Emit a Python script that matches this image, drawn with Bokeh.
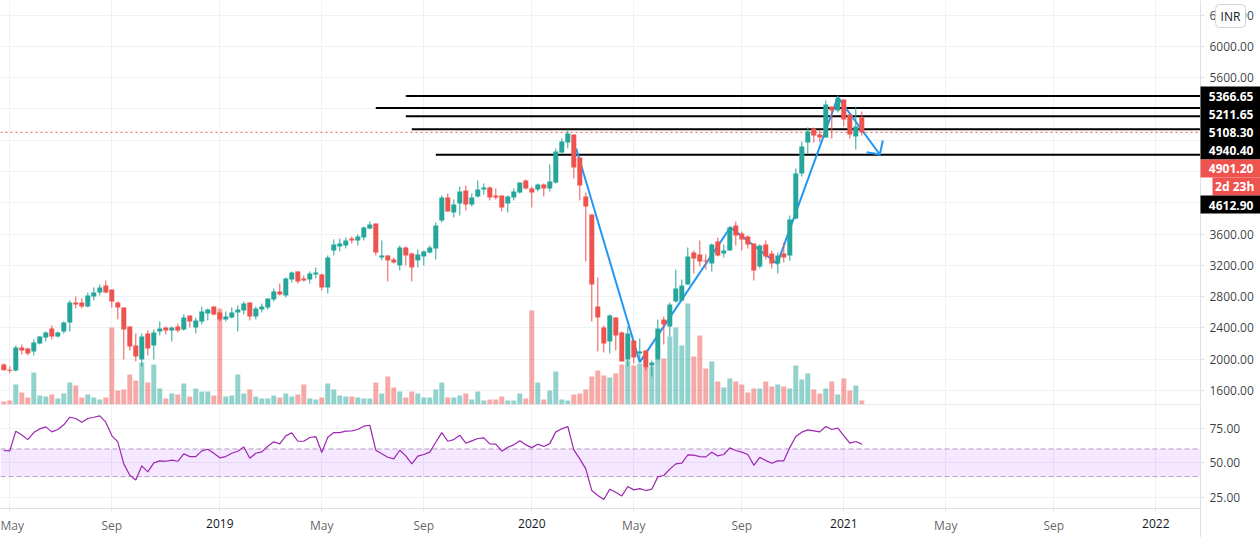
from bokeh.embed import file_html
from bokeh.layouts import column
from bokeh.models import BoxAnnotation, FixedTicker, Grid, Label, LinearAxis, Range1d
from bokeh.plotting import figure
from bokeh.resources import INLINE

# weekly candles, first bar sits in the week of 2018-04-23
opens = [1932, 1864, 1856, 2150, 2137, 2099, 2201, 2278, 2393, 2290,
         2354, 2470, 2725, 2725, 2674, 2802, 2853, 2943, 2892, 2725,
         2661, 2418, 2175, 1996, 2329, 2175, 2354, 2406, 2367, 2418,
         2380, 2559, 2406, 2482, 2585, 2674, 2597, 2508, 2533, 2597,
         2623, 2725, 2546, 2636, 2661, 2764, 2866, 2815, 3019, 3122,
         3032, 3019, 3083, 3083, 2917, 3390, 3442, 3454, 3544, 3518,
         3557, 3672, 3736, 3301, 3326, 3275, 3199, 3429, 3352, 3263,
         3314, 3365, 3416, 3774, 4068, 3876, 3992, 4158, 3979, 4081,
         4171, 4196, 4094, 4094, 3992, 4068, 4132, 4286, 4183, 4171,
         4235, 4183, 4260, 4644, 4772, 4874, 4580, 4081, 3851, 2674,
         2406, 2227, 2534, 2342, 1996, 2239, 2073, 2112, 1919, 1996,
         2507, 2418, 2738, 2750, 2955, 3364, 3339, 3262, 3224, 3505,
         3351, 3390, 3710, 3607, 3569, 3479, 3185, 3467, 3351, 3224,
         3351, 3326, 3799, 4375, 4771, 4950, 4873, 4835, 5231, 5180,
         5321, 5129, 4848, 5091]
highs = [1945, 1907, 2175, 2188, 2146, 2252, 2295, 2354, 2431, 2354,
         2482, 2751, 2802, 2776, 2853, 2917, 2955, 3007, 2892, 2738,
         2661, 2418, 2329, 2329, 2367, 2380, 2482, 2418, 2418, 2457,
         2572, 2559, 2533, 2674, 2649, 2674, 2610, 2610, 2661, 2687,
         2738, 2725, 2674, 2712, 2776, 2904, 2968, 3045, 3122, 3122,
         3071, 3122, 3173, 3096, 3326, 3531, 3544, 3557, 3569, 3595,
         3697, 3761, 3736, 3518, 3326, 3301, 3454, 3442, 3365, 3403,
         3390, 3454, 3749, 4094, 4119, 4043, 4209, 4222, 4119, 4286,
         4247, 4209, 4183, 4094, 4094, 4183, 4260, 4298, 4209, 4247,
         4247, 4490, 4695, 4823, 4925, 4874, 4580, 4132, 3851, 3045,
         2431, 2572, 2534, 2355, 2418, 2239, 2265, 2112, 1983, 2507,
         2546, 2725, 3147, 3019, 3428, 3390, 3518, 3339, 3479, 3556,
         3467, 3697, 3761, 3633, 3582, 3479, 3467, 3518, 3390, 3364,
         3492, 3837, 4438, 4784, 4963, 4963, 4924, 5308, 5231, 5372,
         5321, 5129, 5231, 5167]
lows = [1856, 1822, 1843, 2060, 2047, 2047, 2188, 2226, 2252, 2278,
        2329, 2354, 2649, 2649, 2661, 2751, 2815, 2840, 2661, 2508,
        1996, 2111, 1971, 1907, 2047, 1996, 2303, 2316, 2226, 2342,
        2367, 2406, 2329, 2444, 2495, 2559, 2482, 2482, 2521, 2354,
        2572, 2495, 2508, 2597, 2636, 2738, 2815, 2789, 2981, 2968,
        2994, 2968, 3032, 2879, 2840, 3326, 3378, 3416, 3480, 3454,
        3518, 3659, 3326, 3263, 2994, 3224, 3135, 3199, 2994, 3173,
        3199, 3352, 3275, 3749, 3889, 3812, 3838, 3902, 3953, 4068,
        4107, 4030, 4043, 3889, 3876, 4030, 4119, 4171, 3940, 4145,
        4081, 4145, 4247, 4631, 4695, 4311, 4030, 3250, 2482, 2099,
        2086, 2073, 2112, 1971, 1907, 1945, 1958, 1856, 1778, 1983,
        2188, 2290, 2725, 2738, 2955, 3096, 3185, 3147, 3121, 3313,
        3300, 3390, 3454, 3390, 3415, 3006, 3160, 3275, 3160, 3096,
        3236, 3262, 3786, 4336, 4630, 4771, 4771, 4835, 4822, 5155,
        4976, 4822, 4681, 4861]
closes = [1860, 1851, 2150, 2111, 2073, 2214, 2290, 2342, 2290, 2342,
          2470, 2725, 2700, 2674, 2815, 2853, 2917, 2853, 2738, 2661,
          2380, 2163, 2035, 2290, 2137, 2342, 2393, 2367, 2406, 2367,
          2533, 2482, 2495, 2610, 2636, 2572, 2508, 2546, 2597, 2636,
          2712, 2546, 2649, 2674, 2776, 2866, 2828, 3032, 3109, 2994,
          3007, 3096, 3109, 2917, 3301, 3467, 3480, 3518, 3518, 3569,
          3685, 3723, 3365, 3326, 3263, 3237, 3429, 3326, 3173, 3339,
          3378, 3429, 3710, 4068, 3889, 3979, 4145, 3979, 4068, 4171,
          4196, 4068, 4068, 3940, 4081, 4145, 4260, 4183, 4132, 4235,
          4183, 4273, 4657, 4784, 4887, 4452, 4222, 3953, 2956, 2534,
          2201, 2559, 2303, 1971, 2329, 2022, 2099, 1894, 1957, 2392,
          2443, 2699, 2904, 2942, 3313, 3287, 3249, 3249, 3467, 3326,
          3390, 3684, 3582, 3530, 3467, 3134, 3454, 3313, 3224, 3326,
          3300, 3786, 4375, 4720, 4912, 4861, 4835, 5257, 5180, 5334,
          5065, 4873, 4976, 4901.2]
volumes = [9, 12, 60, 36, 21, 96, 27, 24, 30, 18,
           33, 66, 57, 21, 30, 21, 15, 21, 231, 42,
           45, 90, 72, 126, 66, 120, 48, 18, 33, 30,
           63, 24, 48, 39, 39, 27, 288, 24, 27, 90,
           33, 45, 24, 18, 18, 27, 21, 33, 24, 30,
           60, 18, 15, 21, 63, 45, 27, 24, 24, 21,
           18, 18, 66, 33, 84, 51, 39, 21, 39, 33,
           21, 21, 45, 66, 21, 21, 27, 33, 15, 39,
           12, 15, 15, 24, 12, 12, 33, 18, 282, 66,
           15, 42, 99, 15, 12, 30, 33, 45, 84, 102,
           87, 81, 93, 120, 132, 117, 123, 111, 114, 135,
           138, 204, 231, 177, 303, 144, 207, 108, 129, 69,
           51, 78, 69, 60, 36, 48, 48, 69, 54, 60,
           54, 48, 117, 75, 93, 45, 33, 48, 69, 30,
           78, 42, 57, 12]
rsi = [58.9, 58.6, 72.9, 70.2, 66.8, 71.9, 74.6, 76.0, 72.4, 74.1,
       77.5, 83.0, 82.1, 79.4, 82.1, 83.0, 84.0, 79.4, 69.7, 65.2,
       49.2, 41.0, 37.6, 47.8, 43.4, 49.9, 51.4, 51.1, 51.9, 51.1,
       56.5, 54.5, 54.5, 58.6, 59.8, 56.9, 53.6, 54.5, 56.9, 58.4,
       61.5, 53.3, 56.9, 57.9, 62.0, 65.2, 63.7, 69.5, 71.7, 65.6,
       65.6, 68.3, 69.0, 57.4, 68.5, 71.9, 71.9, 72.9, 73.1, 74.1,
       76.5, 77.2, 59.1, 56.5, 54.0, 52.8, 59.1, 55.0, 49.2, 54.8,
       56.0, 57.7, 64.9, 71.9, 65.6, 66.8, 70.0, 64.2, 65.9, 67.6,
       68.1, 63.7, 63.5, 58.4, 61.3, 63.0, 65.9, 63.0, 61.0, 63.5,
       61.8, 63.9, 72.4, 74.6, 76.3, 59.4, 52.8, 45.6, 29.9, 26.3,
       23.4, 30.9, 28.7, 26.0, 32.8, 30.4, 31.3, 29.9, 30.9, 39.8,
       40.8, 45.4, 49.2, 49.7, 55.7, 55.5, 54.5, 54.3, 57.7, 55.0,
       56.0, 60.8, 58.9, 57.7, 56.0, 48.2, 54.0, 51.6, 49.7, 51.4,
       51.4, 61.0, 69.0, 72.2, 73.8, 73.1, 72.4, 76.3, 74.1, 75.1,
       69.7, 64.2, 65.4, 63.5]

weeks = list(range(len(closes)))

month_ticks = [1, 18, 53, 70, 105, 123, 157, 175]
month_labels = ["May", "Sep", "May", "Sep", "May", "Sep", "May", "Sep"]
year_ticks = [36, 88, 140, 192]
year_labels = ["2019", "2020", "2021", "2022"]

price_ticks = [1600, 2000, 2400, 2800, 3200, 3600, 5600, 6000, 6400]
price_grid = [1600, 2000, 2400, 2800, 3200, 3600, 4000, 4400, 4800, 5200, 5600, 6000, 6400]
rsi_ticks = [25, 50, 75]

# drawn by hand on the chart: horizontal levels (price, first week)
level_prices = [5366.65, 5211.65, 5108.30, 4940.40, 4612.90]
level_starts = [67, 62, 67, 68, 72]
last_price = 4901.20

# the zigzag and its arrow head
zigzag_weeks = [95.4, 106, 121.1, 128.9, 139, 146]
zigzag_prices = [4695, 1962, 3688, 3220, 5351, 4618]
arrow_weeks = [143.8, 146, 146.5]
arrow_prices = [4647, 4618, 4797]

UP = "#26a69a"
DOWN = "#ef5350"
GRID = "#f0f1f5"
AXIS = "#dfe0e4"
TEXT = "#131722"
FONT = "Open Sans"

# frame spans the whole picture, scale strips are drawn inside it
X_START, X_SCALE, X_MAX = -0.55, 199.45, 209.45
PRICE_TOP, PRICE_PER_PX = 6587, 12.788
RSI_TOP, RSI_PER_PX = 91.5, 0.7243


def price_at(py):
    return PRICE_TOP - py * PRICE_PER_PX


def rsi_at(py):
    # py counted from the top of the lower pane
    return RSI_TOP - py * RSI_PER_PX


colors = [UP if c >= o else DOWN for o, c in zip(opens, closes)]
body_top = [max(o, c) for o, c in zip(opens, closes)]
body_bottom = [min(o, c) for o, c in zip(opens, closes)]


def style_scale(axis, ticks):
    axis.ticker = FixedTicker(ticks=ticks)
    axis.major_label_overrides = {t: f"{t}.00" for t in ticks}
    axis.axis_line_color = AXIS
    axis.major_tick_line_color = AXIS
    axis.major_tick_in = 0
    axis.major_tick_out = 4
    axis.minor_tick_line_color = None
    axis.major_label_standoff = 5
    axis.major_label_text_font = FONT
    axis.major_label_text_font_size = "12px"
    axis.major_label_text_color = TEXT
    axis.major_label_text_alpha = 0.85


p = figure(
    frame_width=1260, frame_height=405,
    x_range=Range1d(X_START, X_MAX), y_range=Range1d(price_at(405), PRICE_TOP),
    y_axis_location=None, x_axis_location=None,
    tools="", toolbar_location=None, output_backend="svg",
    min_border_left=0, min_border_right=0, min_border_top=0, min_border_bottom=0,
    background_fill_color="white", outline_line_color=None,
)
p.grid.visible = False
p.add_layout(Grid(dimension=1, ticker=FixedTicker(ticks=price_grid), grid_line_color=GRID))
p.add_layout(Grid(dimension=0, ticker=FixedTicker(ticks=month_ticks + year_ticks), grid_line_color=GRID))
# keep the scale strip clean of grid lines
p.add_layout(BoxAnnotation(left=X_SCALE, right=X_MAX, fill_color="white", fill_alpha=1, line_color=None, level="underlay"))

price_axis = LinearAxis(fixed_location=X_SCALE)
style_scale(price_axis, price_ticks)
p.add_layout(price_axis, "right")

p.extra_y_ranges = {"volume": Range1d(-3, 1212)}
p.vbar(weeks, width=0.83, top=volumes, bottom=0, fill_color=colors, fill_alpha=0.5, line_color=None, y_range_name="volume")
p.line([X_START, X_SCALE], [price_at(404.5), price_at(404.5)], color=AXIS, line_width=1.5)

p.line([X_START, X_SCALE], [last_price, last_price], color=DOWN, line_width=1, line_dash=[2, 3])
p.segment(level_starts, level_prices, [X_SCALE] * len(level_prices), level_prices, color="black", line_width=2)
p.line(zigzag_weeks, zigzag_prices, color="#2196f3", line_width=2)
p.line(arrow_weeks, arrow_prices, color="#2196f3", line_width=2)

p.segment(weeks, highs, weeks, lows, color=colors, line_width=1)
p.vbar(weeks, width=0.83, top=body_top, bottom=body_bottom, fill_color=colors, line_color=None)

# price scale tags, stacked the way the chart pushes them apart
p.add_layout(BoxAnnotation(left=X_SCALE, right=X_MAX, top=price_at(86), bottom=price_at(159),
                           fill_color="black", fill_alpha=1, line_color=None, level="overlay"))
p.add_layout(BoxAnnotation(left=X_SCALE, right=X_MAX, top=price_at(159), bottom=price_at(177),
                           fill_color=DOWN, fill_alpha=1, line_color=None, level="overlay"))
p.add_layout(BoxAnnotation(left=X_SCALE + 2, right=X_MAX, top=price_at(177), bottom=price_at(195),
                           fill_color=DOWN, fill_alpha=1, line_color=None, level="overlay"))
p.add_layout(BoxAnnotation(left=X_SCALE, right=X_MAX, top=price_at(195), bottom=price_at(213),
                           fill_color="black", fill_alpha=1, line_color=None, level="overlay"))
tags = [("5366.65", 5.1, 95.5), ("5211.65", 5.1, 113.5), ("5108.30", 5.1, 131.5), ("4940.40", 5.1, 149.5),
        ("4901.20", 5.1, 167.5), ("2d 23h", 5.7, 186), ("4612.90", 5.1, 204.5)]
for text, dx, py in tags:
    p.add_layout(Label(x=X_SCALE + dx, y=price_at(py), text=text, text_align="center", text_baseline="middle",
                       text_color="white", text_font=FONT, text_font_size="12px", text_font_style="bold",
                       level="overlay"))
p.add_layout(Label(x=X_SCALE + 5, y=price_at(15.5), text="INR", text_align="center", text_baseline="middle",
                   text_color=TEXT, text_font=FONT, text_font_size="12px", background_fill_color="white",
                   border_line_color="#d1d4dc", border_radius=4, padding=(5, 3), level="overlay"))

r = figure(
    frame_width=1260, frame_height=132,
    x_range=p.x_range, y_range=Range1d(rsi_at(132), RSI_TOP),
    y_axis_location=None, x_axis_location=None,
    tools="", toolbar_location=None, output_backend="svg",
    min_border_left=0, min_border_right=0, min_border_top=0, min_border_bottom=0,
    background_fill_color="white", outline_line_color=None,
)
r.grid.visible = False
r.add_layout(Grid(dimension=1, ticker=FixedTicker(ticks=rsi_ticks), grid_line_color=GRID))
r.add_layout(Grid(dimension=0, ticker=FixedTicker(ticks=month_ticks + year_ticks), grid_line_color=GRID))
r.add_layout(BoxAnnotation(left=X_SCALE, right=X_MAX, fill_color="white", fill_alpha=1, line_color=None, level="underlay"))
r.add_layout(BoxAnnotation(top=rsi_at(103), fill_color="white", fill_alpha=1, line_color=None, level="underlay"))

rsi_axis = LinearAxis(fixed_location=X_SCALE)
style_scale(rsi_axis, rsi_ticks)
r.add_layout(rsi_axis, "right")

time_axis = LinearAxis(fixed_location=rsi_at(103), bounds=(X_START, X_SCALE))
time_axis.ticker = FixedTicker(ticks=month_ticks + year_ticks)
time_axis.major_label_overrides = {**dict(zip(month_ticks, month_labels)), **{t: " " for t in year_ticks}}
time_axis.axis_line_color = AXIS
time_axis.major_tick_line_color = AXIS
time_axis.major_tick_in = 0
time_axis.major_tick_out = 3
time_axis.minor_tick_line_color = None
time_axis.major_label_standoff = 5
time_axis.major_label_text_font = FONT
time_axis.major_label_text_font_size = "12px"
time_axis.major_label_text_color = TEXT
time_axis.major_label_text_alpha = 0.7
r.add_layout(time_axis, "below")

r.add_layout(BoxAnnotation(left=X_START, right=X_SCALE, bottom=40, top=60, fill_color="#9915ff", fill_alpha=0.1,
                           line_color=None, level="underlay"))
r.line([X_START, X_SCALE], [60, 60], color="#b39bbf", line_width=1, line_dash=[5, 3])
r.line([X_START, X_SCALE], [40, 40], color="#b39bbf", line_width=1, line_dash=[5, 3])
r.line(weeks, rsi, color="#9c27b0", line_width=1.2)

for week, text in zip(year_ticks, year_labels):
    r.add_layout(Label(x=week, y=rsi_at(118), text=text, text_align="center", text_baseline="middle",
                       text_color=TEXT, text_font=FONT, text_font_size="12px"))

layout = column(p, r, spacing=0)

open("out.html", "w").write(file_html(layout, INLINE))
